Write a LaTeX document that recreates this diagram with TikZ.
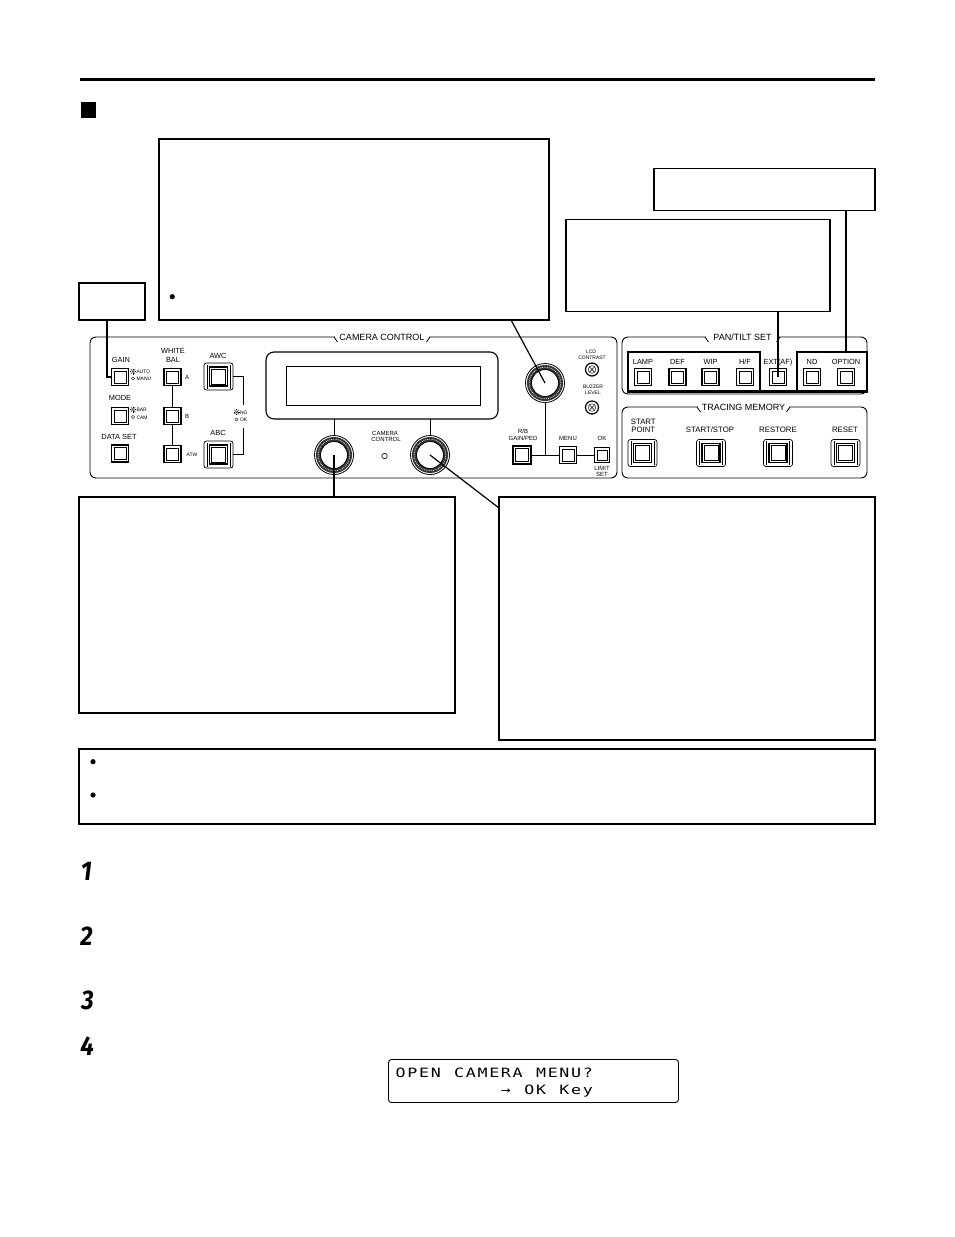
\documentclass[tikz,border=0pt]{standalone}
\usepackage{fontspec}
\usepackage{graphicx}
\usetikzlibrary{calc}
\newfontfamily\labf{Liberation Sans}
\newfontfamily\stepf{Fira Sans}
\newfontfamily\lcdf[LetterSpace=0]{DejaVu Sans Mono}
\begin{document}
\begin{tikzpicture}[x=1pt,y=-1pt,
  every node/.style={inner sep=0pt,outer sep=0pt},
  txtbox/.style={draw,line width=1.2pt,rectangle,anchor=north west},
  lead/.style={line width=1.2pt},
  leadB/.style={line width=1.8pt},
  leadT/.style={line width=2.3pt},
  conn/.style={line width=0.8pt},
  panel/.style={draw,line width=0.9pt,rounded corners=6pt},
  grp/.style={line width=2.6pt,line join=miter},
  ttl/.style={font=\labf\fontsize{9}{9}\selectfont},
  lblA/.style={font=\labf\fontsize{7.4}{7.4}\selectfont},
  lblT/.style={font=\labf\fontsize{7.8}{7.8}\selectfont},
  lblS/.style={font=\labf\fontsize{6}{6}\selectfont},
  lblX/.style={font=\labf\fontsize{5}{5}\selectfont},
  bul/.style={circle,fill,minimum size=5.2pt},
  led/.style={circle,draw,line width=0.4pt,minimum size=3.2pt},
  stepnum/.style={anchor=base,font=\stepf\bfseries\itshape\fontsize{27}{27}\selectfont},
  lcdch/.style={anchor=base,font=\lcdf\fontsize{12.8}{12.8}\selectfont},
  btn/.style={draw,line width=1.1pt,fill=white,minimum size=17pt,
    path picture={\draw[line width=0.5pt] ([shift={(2.4pt,-2.4pt)}]path picture bounding box.north west) rectangle ([shift={(-2.4pt,2.4pt)}]path picture bounding box.south east);}},
  bigbtn/.style={draw,line width=0.7pt,fill=white,rounded corners=2.5pt,minimum width=29pt,minimum height=27pt,
    path picture={
      \draw[line width=0.5pt,sharp corners] ([shift={(3pt,-1.5pt)}]path picture bounding box.north west) -- ([shift={(3pt,1.5pt)}]path picture bounding box.south west);
      \draw[line width=0.5pt,sharp corners] ([shift={(-3pt,-1.5pt)}]path picture bounding box.north east) -- ([shift={(-3pt,1.5pt)}]path picture bounding box.south east);
      \draw[line width=1.3pt,sharp corners] ([shift={(5.5pt,-4pt)}]path picture bounding box.north west) rectangle ([shift={(-5.5pt,4pt)}]path picture bounding box.south east);
      \draw[line width=0.4pt,sharp corners] ([shift={(7.5pt,-6pt)}]path picture bounding box.north west) rectangle ([shift={(-7.5pt,6pt)}]path picture bounding box.south east);}},
  knob/.style={circle,draw,line width=0.8pt,fill=white,minimum size=39pt,
    path picture={
      \fill[black!80,even odd rule] (path picture bounding box.center) circle[radius=18pt] circle[radius=13.5pt];
      \draw[white,line width=0.6pt,dash pattern=on 0.8pt off 1pt] (path picture bounding box.center) circle[radius=15.8pt];
      \draw[line width=0.8pt] (path picture bounding box.center) circle[radius=13.5pt];}},
  adj/.style={circle,draw,line width=1.2pt,fill=white,minimum size=13pt,
    path picture={
      \draw[line width=0.4pt] (path picture bounding box.center) circle[radius=3.8pt];
      \draw[line width=0.6pt] ([shift={(-2.7pt,-2.7pt)}]path picture bounding box.center) -- ([shift={(2.7pt,2.7pt)}]path picture bounding box.center);
      \draw[line width=0.6pt] ([shift={(-2.7pt,2.7pt)}]path picture bounding box.center) -- ([shift={(2.7pt,-2.7pt)}]path picture bounding box.center);}},
  sunpic/.pic={\draw[line width=0.4pt] (0,0) circle[radius=1.1pt];
    \foreach \a in {0,45,...,315}{\draw[line width=0.4pt] (\a:1.7pt) -- (\a:3pt);}}
]
\useasboundingbox (0,0) rectangle (954,1237);

% header
\draw[line width=3pt] (80,79.2) -- (875,79.2);
\fill (81,102) rectangle (96,118);

% text boxes
\node[txtbox,minimum width=390pt,minimum height=181pt] (boxA) at (159,139) {};
\node[txtbox,minimum width=66pt,minimum height=37pt] (boxB) at (79,283) {};
\node[txtbox,minimum width=221pt,minimum height=42pt] (boxC) at (654,168.5) {};
\node[txtbox,minimum width=264pt,minimum height=92pt] (boxD) at (566,219.5) {};
\node[txtbox,minimum width=376pt,minimum height=216pt] (boxE) at (79,497) {};
\node[txtbox,minimum width=376pt,minimum height=243pt] (boxF) at (499,497) {};
\node[txtbox,minimum width=796pt,minimum height=75pt] (boxN) at (79,749) {};
\node[bul] (bulA) at (172.3,296.7) {};
\node[bul] (bulN1) at (93,761.7) {};
\node[bul] (bulN2) at (93,795) {};

% panels
\draw[panel] (90,337) rectangle (617,478);
\draw[panel] (622,337) rectangle (867,394);
\draw[panel] (622,407) rectangle (867,478);
\fill[white] (335,333) rectangle (429,341);
\draw[conn] (334,337) -- (337.5,342);
\draw[conn] (426.5,342) -- (430,337);
\node[ttl] (tCC) at (382,337.5) {CAMERA CONTROL};
\fill[white] (706,333) rectangle (779,341);
\draw[conn] (705,337) -- (708.5,342);
\draw[conn] (776.5,342) -- (780,337);
\node[ttl] (tPT) at (742.5,337.5) {PAN/TILT SET};
\fill[white] (698,403) rectangle (789,411);
\draw[conn] (697,407) -- (700.5,412);
\draw[conn] (786.5,412) -- (790,407);
\node[ttl] (tTM) at (743.5,407.5) {TRACING MEMORY};

% left column
\node[lblA] (lGain) at (121,360) {GAIN};
\node[btn] (gain) at (120,377) {};
\pic at (133,371.5) {sunpic};
\node[lblX,anchor=west] (tAuto) at (136.5,372) {AUTO};
\node[led] (ledManu) at (133,378.5) {};
\node[lblX,anchor=west] (tManu) at (136.5,379) {MANU};
\node[lblA] (lMode) at (120,398) {MODE};
\node[btn] (mode) at (120,416) {};
\pic at (133,409.5) {sunpic};
\node[lblX,anchor=west] (tBar) at (136.5,410) {BAR};
\node[led] (ledCam) at (133,417) {};
\node[lblX,anchor=west] (tCamL) at (136.5,417.5) {CAM};
\node[lblA] (lData) at (119,437) {DATA SET};
\node[btn] (dataset) at (120,453.5) {};

% white balance
\node[lblA] (lWhite) at (173,351) {WHITE};
\node[lblA] (lBal) at (173,359.5) {BAL};
\node[btn] (wbA) at (172.5,377) {};
\node[btn] (wbB) at (172.5,416) {};
\node[btn] (wbATW) at (172.5,454) {};
\draw[conn] (wbA.south) -- (wbB.north);
\draw[conn] (wbB.south) -- (wbATW.north);
\node[lblS] (tA) at (187,377) {A};
\node[lblS] (tB) at (187,416) {B};
\node[lblX] (tATW) at (192,455) {ATW};

% AWC / ABC
\node[lblA] (lAwc) at (218,356) {AWC};
\node[bigbtn] (awc) at (218.5,376.5) {};
\node[lblA] (lAbc) at (218,433) {ABC};
\node[bigbtn] (abc) at (218.5,454.5) {};
\coordinate (ngTop) at (243.3,405);
\coordinate (ngBot) at (243.3,428);
\draw[conn] (awc.east) -| (ngTop);
\draw[conn] (abc.east) -| (ngBot);
\pic at (236.5,412) {sunpic};
\node[lblX,anchor=west] (tNG) at (240,412.5) {NG};
\node[led] (ledOK) at (236.5,419.5) {};
\node[lblX,anchor=west] (tOK) at (240,420) {OK};

% LCD and knobs
\node[draw,line width=1.1pt,rounded corners=8pt,minimum width=232pt,minimum height=67pt] (lcdo) at (382,385.5) {};
\node[draw,line width=1pt,minimum width=194pt,minimum height=39pt] (lcdi) at (383,385.5) {};
\node[knob] (knobL) at (334,455) {};
\node[knob] (knobR) at (430,455) {};
\node[knob] (knobU) at (545,383) {};
\draw[conn] (knobL.north |- lcdo.south) -- (knobL.north);
\draw[conn] (knobR.north |- lcdo.south) -- (knobR.north);
\node[lblS] (tCam1) at (385,433) {CAMERA};
\node[lblS] (tCam2) at (386,439.5) {CONTROL};
\node[led,minimum size=5.5pt,line width=0.6pt] (ledCC) at (384.5,456) {};

\node[lblX] (tLcd) at (591,351.5) {LCD};
\node[lblX] (tContrast) at (592,357.5) {CONTRAST};
\node[adj] (adjL) at (592,369.5) {};
\node[lblX] (tBuzz) at (593,386.5) {BUZZER};
\node[lblX] (tLevel) at (593,392.5) {LEVEL};
\node[adj] (adjB) at (592,407.5) {};

\node[lblS] (tRB) at (523,431) {R/B};
\node[lblS] (tGP) at (523,438.5) {GAIN/PED};
\node[btn,minimum size=18pt] (rb) at (522,455) {};
\node[lblS] (tMenu) at (568,438.5) {MENU};
\node[btn] (menu) at (568,455) {};
\node[lblS] (tOKk) at (602,438.5) {OK};
\node[btn,minimum size=15pt] (ok) at (602,455) {};
\node[lblS] (tLimit) at (602,468.5) {LIMIT};
\node[lblS] (tSet) at (602,474.5) {SET};
\draw[conn] (knobU.south) -- (knobU.south |- rb.east);
\draw[conn] (rb.east) -- (menu.west);
\draw[conn] (menu.east) -- (ok.west);

% PAN/TILT SET
\foreach \n/\x/\t in {lamp/643/LAMP,def/677.5/DEF,wip/710.5/WIP,hf/745/{H/F},ext/778/EXT(AF),nd/812/ND,opt/846/OPTION}{
  \node[btn] (pt\n) at (\x,377) {};
  \node[lblA] (lpt\n) at (\x,362.3) {\t};
}
\draw[grp] (760,391.5) -- (760,352) -- (628,352) -- (628,391.5) -- (867,391.5) -- (867,352) -- (797,352) -- (797,391.5);

% TRACING MEMORY
\foreach \n/\x in {sp/642.5,ss/711,rs/778,rt/845.5}{
  \node[bigbtn] (tm\n) at (\x,453) {};
}
\node[lblT] (tStart) at (643.3,421.7) {START};
\node[lblT] (tPoint) at (643.3,430) {POINT};
\node[lblT] (tSS) at (710,430) {START/STOP};
\node[lblT] (tRestore) at (778,430) {RESTORE};
\node[lblT] (tReset) at (845,430) {RESET};

% leaders
\draw[leadB] ([xshift=-5pt]boxB.south) |- (gain.west);
\draw[lead] ([xshift=157pt]boxA.south) -- (knobU.center);
\coordinate (rgTop) at (846,352);
\draw[lead] (rgTop |- boxC.south) -- (rgTop);
\draw[leadT] (ptext.center |- boxD.south) -- (ptext.center);
\draw[lead] (knobL.center) -- (knobL.center |- boxE.north);
\coordinate (fEnd) at ($(boxF.north west)+(0,11)$);
\draw[lead] (knobR.center) -- (fEnd);

% steps
\node[stepnum] (s1) at (86.5,880) {\scalebox{0.9}[1]{1}};
\node[stepnum] (s2) at (86.5,945) {\scalebox{0.9}[1]{2}};
\node[stepnum] (s3) at (87.5,1009) {\scalebox{0.9}[1]{3}};
\node[stepnum] (s4) at (87,1055) {\scalebox{0.9}[1]{4}};

% LCD message
\node[txtbox,line width=0.9pt,rounded corners=3pt,minimum width=290pt,minimum height=43pt] (lcdbox) at (388.5,1059.5) {};
\foreach \c [count=\i from 0] in {O,P,E,N,{},C,A,M,E,R,A,{},M,E,N,U,?}{
  \node[lcdch] (la\i) at (400.7+11.7*\i,1077) {\scalebox{1.3}[1]{\c}};
}
\foreach \c [count=\i from 9] in {→,{},O,K,{},K,e,y}{
  \node[lcdch] (lb\i) at (400.7+11.7*\i,1094) {\scalebox{1.3}[1]{\c}};
}
\end{tikzpicture}
\end{document}
